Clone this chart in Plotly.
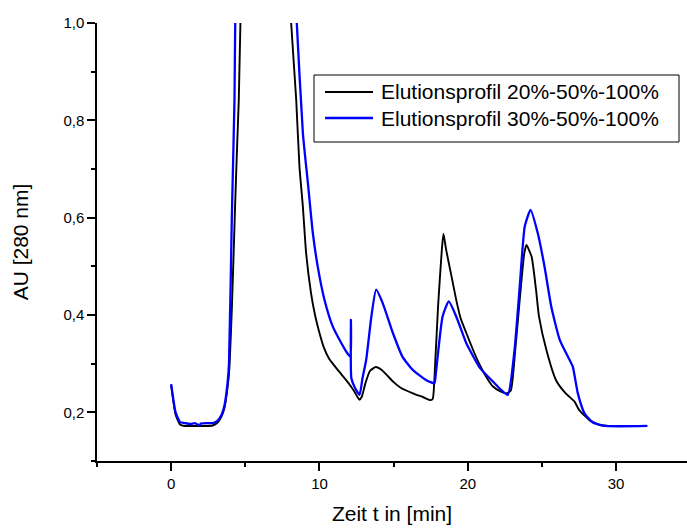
import plotly.graph_objects as go

# Elution profile 20%-50%-100% (black)
t_black = [0.0, 0.3, 0.6, 0.9, 1.5, 2.2, 2.8, 3.1, 3.4, 3.6, 3.8, 3.93, 4.1, 4.31, 4.45, 4.56, 4.67,
           5.0, 5.6, 6.3, 7.0, 7.6, 8.09, 8.43, 8.65, 8.88, 9.1, 9.43, 9.7, 10.0, 10.3, 10.65, 11.0,
           11.32, 11.8, 12.1, 12.37, 12.55, 12.7, 12.85, 13.1, 13.4, 13.8, 14.2, 14.5, 15.0, 15.5,
           16.3, 17.0, 17.5, 17.64, 17.8, 18.0, 18.25, 18.36, 18.54, 18.9, 19.22, 19.5, 19.9, 20.4,
           20.8, 21.3, 21.7, 22.2, 22.6, 22.9, 23.2, 23.5, 23.8, 23.95, 24.3, 24.6, 24.8, 25.3,
           25.95, 26.6, 27.2, 27.5, 28.2, 28.9, 29.5, 32.1]
au_black = [0.256, 0.195, 0.175, 0.172, 0.172, 0.172, 0.173, 0.178, 0.192, 0.210, 0.250, 0.293, 0.42,
            0.623, 0.75, 0.843, 1.0, 1.35, 1.75, 1.95, 1.7, 1.3, 1.0, 0.843, 0.705, 0.623, 0.527,
            0.445, 0.40, 0.363, 0.333, 0.310, 0.296, 0.284, 0.266, 0.254, 0.242, 0.232, 0.226, 0.232,
            0.260, 0.285, 0.293, 0.287, 0.278, 0.262, 0.250, 0.239, 0.231, 0.225, 0.228, 0.30, 0.42,
            0.534, 0.567, 0.534, 0.480, 0.431, 0.395, 0.363, 0.325, 0.298, 0.270, 0.253, 0.243,
            0.239, 0.245, 0.328, 0.431, 0.525, 0.544, 0.520, 0.452, 0.397, 0.328, 0.266, 0.239,
            0.222, 0.205, 0.184, 0.174, 0.172, 0.172]

# Elution profile 30%-50%-100% (blue)
t_blue = [0.0, 0.3, 0.6, 0.9, 1.3, 1.6, 1.9, 2.0, 2.4, 2.8, 3.1, 3.4, 3.6, 3.8, 3.9, 4.09, 4.27, 4.32,
          4.7, 5.4, 6.3, 7.2, 8.0, 8.47, 8.88, 9.22, 9.55, 9.88, 10.34, 10.9, 11.35, 11.8, 12.09,
          12.12, 12.15, 12.4, 12.7, 12.9, 13.15, 13.5, 13.82, 14.27, 14.95, 15.6, 16.3, 17.2, 17.75,
          17.85, 18.3, 18.72, 19.22, 19.9, 20.1, 20.8, 21.7, 22.15, 22.7, 23.15, 23.5, 23.84, 24.23,
          24.72, 25.17, 25.63, 26.2, 26.86, 27.08, 27.42, 27.87, 28.43, 29.33, 32.1]
au_blue = [0.258, 0.200, 0.180, 0.178, 0.176, 0.178, 0.173, 0.177, 0.178, 0.178, 0.182, 0.195, 0.215,
           0.26, 0.30, 0.60, 0.843, 1.0, 1.45, 1.9, 2.05, 1.75, 1.3, 1.0, 0.774, 0.671, 0.569, 0.50,
           0.431, 0.376, 0.349, 0.325, 0.314, 0.390, 0.27, 0.250, 0.236, 0.27, 0.308, 0.397, 0.452,
           0.424, 0.363, 0.314, 0.287, 0.266, 0.260, 0.281, 0.397, 0.428, 0.397, 0.342, 0.330, 0.292,
           0.263, 0.249, 0.236, 0.328, 0.458, 0.582, 0.616, 0.568, 0.50, 0.417, 0.349, 0.308, 0.294,
           0.239, 0.198, 0.179, 0.172, 0.172]

names = ["Elutionsprofil 20%-50%-100%", "Elutionsprofil 30%-50%-100%"]
colors = ["#000000", "#0000ff"]
widths = [1.9, 2.3]

FONT = "Liberation Sans, Arial, Helvetica, sans-serif"

fig = go.Figure()
for t, au, nm, c, w in [(t_black, au_black, names[0], colors[0], widths[0]),
                        (t_blue, au_blue, names[1], colors[1], widths[1])]:
    fig.add_trace(go.Scatter(x=t, y=au, mode="lines", name=nm, showlegend=False,
                             line=dict(color=c, width=w, shape="spline", smoothing=0.5)))

axis_common = dict(
    showline=True, linecolor="black", linewidth=1.5,
    ticks="outside", ticklen=8, tickwidth=1.5, tickcolor="black",
    showgrid=False, zeroline=False,
    tickfont=dict(family=FONT, size=15, color="black"),
)

# legend drawn in paper coordinates
L, R, T, B = 97, 687, 23, 461
def px(x):
    return (x - L) / (R - L)
def py(y):
    return 1 - (y - T) / (B - T)

shapes = [dict(type="rect", xref="paper", yref="paper",
               x0=px(314), x1=px(679), y0=py(142), y1=py(75),
               line=dict(color="black", width=1), fillcolor="rgba(0,0,0,0)", layer="above")]
annotations = []
for i, (nm, c, w) in enumerate(zip(names, colors, widths)):
    yy = 92 + 26 * i
    shapes.append(dict(type="line", xref="paper", yref="paper",
                       x0=px(325), x1=px(373), y0=py(yy), y1=py(yy),
                       line=dict(color=c, width=w), layer="above"))
    annotations.append(dict(text=nm, xref="paper", yref="paper", x=px(379), y=py(yy),
                            xanchor="left", yanchor="middle", showarrow=False,
                            font=dict(family=FONT, size=21, color="black")))

fig.update_layout(
    width=687, height=528,
    margin=dict(l=97, r=0, t=23, b=67, pad=0),
    paper_bgcolor="white", plot_bgcolor="white",
    separators=",.",
    font=dict(family=FONT, color="black"),
    showlegend=False,
    xaxis=dict(range=[-5, 34.78], tick0=0, dtick=10,
               minor=dict(dtick=5, tick0=0, ticks="outside", ticklen=4, tickwidth=1.5, tickcolor="black"),
               title=dict(text="Zeit t in [min]", font=dict(family=FONT, size=21), standoff=16),
               **axis_common),
    yaxis=dict(range=[0.1, 1.0], tick0=0.2, dtick=0.2, tickformat=".1f",
               minor=dict(dtick=0.1, tick0=0.0, ticks="outside", ticklen=4, tickwidth=1.5, tickcolor="black"),
               title=dict(text="AU [280 nm]", font=dict(family=FONT, size=21), standoff=29),
               **axis_common),
    shapes=shapes,
    annotations=annotations,
)

fig.write_html("out.html")
